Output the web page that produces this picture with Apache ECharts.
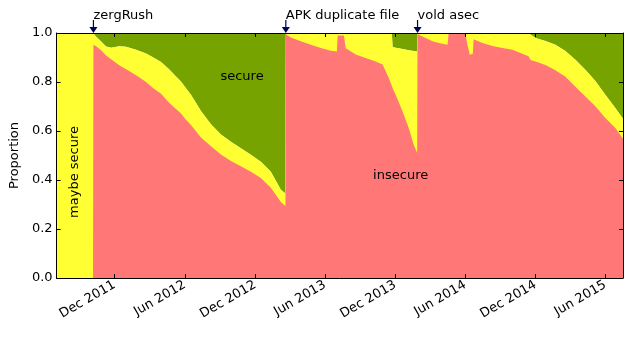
<!DOCTYPE html>
<html><head><meta charset="utf-8">
<script src="https://cdn.jsdelivr.net/npm/echarts@6/dist/echarts.min.js"></script>
<style>html,body{margin:0;padding:0;background:#fff}#c{width:640px;height:343px}</style>
</head><body><div id="c"></div>
<script>
// ---- data ----
const dates = [
'2011-07-03','2011-10-06','2011-10-07','2011-10-14','2011-10-27','2011-11-09','2011-11-22','2011-12-13','2011-12-31',
'2012-01-26','2012-02-21','2012-03-11','2012-03-31','2012-04-21','2012-05-09','2012-05-22','2012-06-04','2012-06-17',
'2012-07-13','2012-08-08','2012-09-03','2012-09-29','2012-10-25','2012-11-20','2012-12-16','2013-01-11','2013-02-06',
'2013-02-18','2013-02-19','2013-03-04','2013-03-30','2013-04-25','2013-05-21','2013-06-16','2013-07-02','2013-07-04',
'2013-07-20','2013-07-25','2013-08-20','2013-09-15','2013-10-11','2013-10-29','2013-11-14','2013-11-22','2013-11-24',
'2013-12-02','2013-12-20','2014-01-05','2014-01-18','2014-01-27','2014-01-28','2014-02-18','2014-03-08','2014-03-24',
'2014-04-16','2014-04-19','2014-06-02','2014-06-05','2014-06-13','2014-06-21','2014-06-23','2014-07-16','2014-08-11',
'2014-09-06','2014-10-02','2014-10-23','2014-11-05','2014-11-13','2014-11-18','2014-12-01','2014-12-27','2015-01-22',
'2015-02-17','2015-03-15','2015-04-10','2015-05-06','2015-06-01','2015-06-27','2015-07-17'];
// proportion "insecure" (top of red layer)
const insecure = [
0,0,0.952,0.946,0.93,0.908,0.893,0.868,0.852,
0.828,0.8,0.775,0.752,0.715,0.69,0.671,0.646,0.624,
0.573,0.538,0.504,0.478,0.456,0.434,0.408,0.368,0.31,
0.294,0.995,0.982,0.966,0.952,0.939,0.928,0.925,0.99,
0.99,0.938,0.912,0.898,0.884,0.871,0.816,0.785,0.776,
0.748,0.68,0.612,0.544,0.51,0.995,0.98,0.966,0.959,
0.952,0.998,0.998,0.965,0.911,0.915,0.975,0.959,0.947,
0.939,0.932,0.918,0.91,0.905,0.89,0.884,0.869,0.848,
0.821,0.781,0.741,0.701,0.653,0.612,0.568];
// proportion "insecure" + "maybe secure" (top of yellow layer; "secure" fills the rest up to 1)
const notSecure = [
1,1,1,0.985,0.965,0.945,0.94,0.946,0.944,
0.932,0.916,0.9,0.882,0.852,0.822,0.802,0.775,0.748,
0.682,0.628,0.586,0.556,0.53,0.503,0.474,0.434,0.36,
0.345,1,1,1,1,1,1,1,1,
1,1,1,1,1,1,1,1,0.943,
0.94,0.935,0.93,0.927,0.925,1,1,1,1,
1,1,1,1,1,1,1,1,1,
1,1,1,1,1,0.995,0.98,0.967,0.952,
0.927,0.891,0.85,0.804,0.748,0.694,0.65];
const tickDates = ['2011-12-01','2012-06-01','2012-12-01','2013-06-01','2013-12-01','2014-06-01','2014-12-01','2015-06-01'];
const tickLabels = ['Dec 2011','Jun 2012','Dec 2012','Jun 2013','Dec 2013','Jun 2014','Dec 2014','Jun 2015'];
const eventNames = ['zergRush','APK duplicate file','vold asec'];
const eventDates = ['2011-10-07','2013-02-19','2014-01-28'];
const regionNames = ['secure','insecure','maybe secure'];
const regionDates = ['2012-10-28','2013-12-15','2011-08-19'];
const regionValues = [0.82, 0.416, 0.433];
const regionRotate = [0, 0, 90];
const axisStart = '2011-07-03', axisEnd = '2015-07-17';

// ---- chart ----
function ts(s){const p=s.split('-').map(Number);return Date.UTC(p[0],p[1]-1,p[2]);}
const tickTs = tickDates.map(ts);
const FONT = 'DejaVu Sans';
const insecureData = dates.map((d,i)=>[ts(d), insecure[i]]);
const notSecureData = dates.map((d,i)=>[ts(d), notSecure[i]]);

function area(name, data, color, origin){
  return {name, type:'line', data, symbol:'none', showSymbol:false,
    lineStyle:{width:0}, itemStyle:{color}, areaStyle:{color, opacity:1, origin}, silent:true};
}
const xCommon = {type:'value', min:ts(axisStart), max:ts(axisEnd), splitLine:{show:false}, z:10,
  axisLine:{show:true, onZero:false, lineStyle:{color:'#000',width:1}},
  axisTick:{inside:true, length:4, customValues:tickTs, lineStyle:{color:'#000'}}};
const yCommon = {type:'value', min:0, max:1, interval:0.2, splitLine:{show:false}, z:10,
  axisLine:{show:true, onZero:false, lineStyle:{color:'#000',width:1}},
  axisTick:{show:true, inside:true, length:4, lineStyle:{color:'#000'}}};

const arrowPath = 'path://M3.4,0 L4.6,0 L4.6,7 L8,7 L4,13 L0,7 L3.4,7 Z';

const chart = echarts.init(document.getElementById('c'), null, {renderer:'canvas'});
chart.setOption({
  animation:false,
  textStyle:{fontFamily:FONT},
  grid:{left:55, right:17, top:33, bottom:65, containLabel:false},
  xAxis:[
    Object.assign({}, xCommon, {position:'bottom',
      axisLabel:{customValues:tickTs, rotate:30, fontSize:13, color:'#000', fontFamily:FONT, margin:6,
        formatter:(v)=>{const i=tickTs.indexOf(v);return i>=0?tickLabels[i]:'';}}}),
    Object.assign({}, xCommon, {position:'top', axisLabel:{show:false}})
  ],
  yAxis:[
    Object.assign({}, yCommon, {position:'left', name:'Proportion', nameLocation:'middle', nameGap:29,
      nameTextStyle:{fontSize:13, color:'#000', fontFamily:FONT},
      axisLabel:{fontSize:13, color:'#000', fontFamily:FONT, margin:4, formatter:(v)=>v.toFixed(1)}}),
    Object.assign({}, yCommon, {position:'right', axisLabel:{show:false}})
  ],
  series:[
    area('secure', notSecureData, '#77a300', 'end'),
    area('maybe secure', notSecureData, '#ffff33', 'start'),
    area('insecure', insecureData, '#ff7777', 'start'),
    {type:'line', data:[], silent:true, z:5,
      markPoint:{silent:true, animation:false,
        data: eventDates.map((d,i)=>({coord:[ts(d),1.0], symbol:arrowPath, symbolSize:[8,13], symbolOffset:[0,-6.5],
            itemStyle:{color:'#00005a'}, label:{show:false}}))
          .concat(eventDates.map((d,i)=>({coord:[ts(d),1.0], symbol:'circle', symbolSize:0, itemStyle:{color:'transparent'},
            label:{show:true, position:'right', distance:0, offset:[0,-17], formatter:eventNames[i], color:'#000', fontSize:13, fontFamily:FONT}})))
          .concat(regionDates.map((d,i)=>({coord:[ts(d),regionValues[i]], symbol:'circle', symbolSize:0, itemStyle:{color:'transparent'},
            label:{show:true, position:'inside', rotate:regionRotate[i], formatter:regionNames[i], color:'#000', fontSize:13, fontFamily:FONT}})))}
    }
  ]
});
</script></body></html>
